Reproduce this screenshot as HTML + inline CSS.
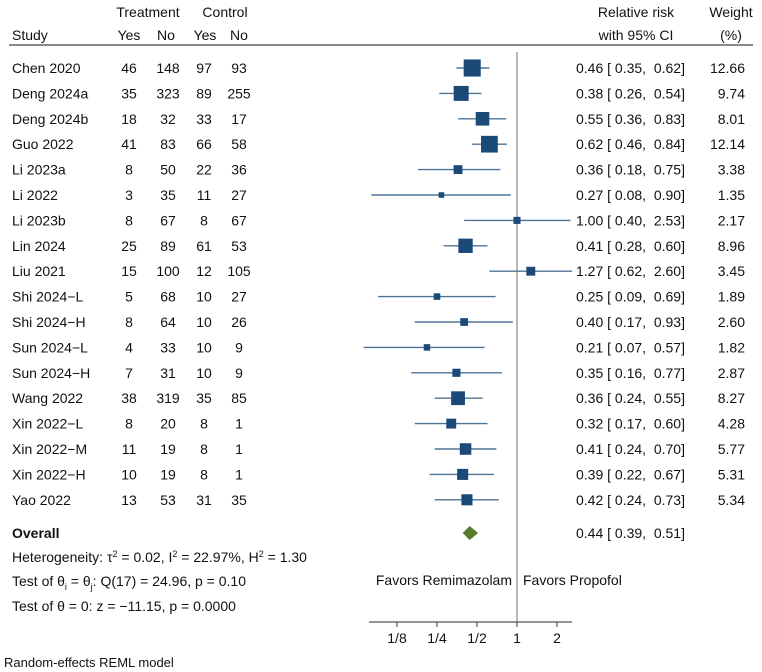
<!DOCTYPE html>
<html><head><meta charset="utf-8"><style>
html,body{margin:0;padding:0;background:#fff}
svg{display:block}
text{font-family:"Liberation Sans",Arial,sans-serif;font-size:14px;fill:#111}
</style></head><body>
<svg id="plot" width="762" height="672" viewBox="0 0 762 672" xmlns="http://www.w3.org/2000/svg">
<g>
<text x="148" y="17" text-anchor="middle">Treatment</text>
<text x="225" y="17" text-anchor="middle">Control</text>
<text x="12" y="40">Study</text>
<text x="129" y="40" text-anchor="middle">Yes</text>
<text x="166" y="40" text-anchor="middle">No</text>
<text x="205" y="40" text-anchor="middle">Yes</text>
<text x="239" y="40" text-anchor="middle">No</text>
<text x="636" y="17" text-anchor="middle">Relative risk</text>
<text x="636" y="40" text-anchor="middle">with 95% CI</text>
<text x="731" y="17" text-anchor="middle">Weight</text>
<text x="731" y="40" text-anchor="middle">(%)</text>
<line x1="9" y1="45" x2="753" y2="45" stroke="#444" stroke-width="1.3"/>
</g>
<g id="rows"></g>
<g id="marks"></g>
<g>
<text x="12" y="538" font-weight="bold">Overall</text>
<text x="12" y="562">Heterogeneity: τ<tspan dy="-5" font-size="9">2</tspan><tspan dy="5"> = 0.02, I</tspan><tspan dy="-5" font-size="9">2</tspan><tspan dy="5"> = 22.97%, H</tspan><tspan dy="-5" font-size="9">2</tspan><tspan dy="5"> = 1.30</tspan></text>
<text x="12" y="586">Test of θ<tspan dy="4" font-size="9">i</tspan><tspan dy="-4"> = θ</tspan><tspan dy="4" font-size="9">j</tspan><tspan dy="-4">: Q(17) = 24.96, p = 0.10</tspan></text>
<text x="12" y="611">Test of θ = 0: z = −11.15, p = 0.0000</text>
<text x="4" y="667" font-size="13" style="font-size:13px">Random-effects REML model</text>
<text x="512" y="585" text-anchor="end">Favors Remimazolam</text>
<text x="523" y="585">Favors Propofol</text>
</g>
</svg>
<script>
const studies=["Chen 2020","Deng 2024a","Deng 2024b","Guo 2022","Li 2023a","Li 2022","Li 2023b","Lin 2024","Liu 2021","Shi 2024\u2212L","Shi 2024\u2212H","Sun 2024\u2212L","Sun 2024\u2212H","Wang 2022","Xin 2022\u2212L","Xin 2022\u2212M","Xin 2022\u2212H","Yao 2022"];
const treatYes=[46,35,18,41,8,3,8,25,15,5,8,4,7,38,8,11,10,13];
const treatNo=[148,323,32,83,50,35,67,89,100,68,64,33,31,319,20,19,19,53];
const ctrlYes=[97,89,33,66,22,11,8,61,12,10,10,10,10,35,8,8,8,31];
const ctrlNo=[93,255,17,58,36,27,67,53,105,27,26,9,9,85,1,1,1,35];
const rr=[0.46,0.38,0.55,0.62,0.36,0.27,1.00,0.41,1.27,0.25,0.40,0.21,0.35,0.36,0.32,0.41,0.39,0.42];
const lower=[0.35,0.26,0.36,0.46,0.18,0.08,0.40,0.28,0.62,0.09,0.17,0.07,0.16,0.24,0.17,0.24,0.22,0.24];
const upper=[0.62,0.54,0.83,0.84,0.75,0.90,2.53,0.60,2.60,0.69,0.93,0.57,0.77,0.55,0.60,0.70,0.67,0.73];
const weights=[12.66,9.74,8.01,12.14,3.38,1.35,2.17,8.96,3.45,1.89,2.60,1.82,2.87,8.27,4.28,5.77,5.31,5.34];
const overall=[0.44,0.39,0.51];
const tickVals=[0.125,0.25,0.5,1,2];
const tickLabels=["1/8","1/4","1/2","1","2"];

const NS="http://www.w3.org/2000/svg";
const X0=517, PX=40, Y0=68, DY=25.4;
function xs(v){return X0+Math.log2(v)*PX;}
function ys(i){return Y0+i*DY;}
function mk(tag,attrs,parent){const e=document.createElementNS(NS,tag);for(const k in attrs)e.setAttribute(k,attrs[k]);parent.appendChild(e);return e;}
const rows=document.getElementById('rows'), marks=document.getElementById('marks');
function txt(x,y,s,anchor,parent){const t=mk('text',{x:x,y:y,'text-anchor':anchor},parent);t.textContent=s;return t;}

// reference line
const ref=mk('line',{x1:X0,y1:52,x2:X0,y2:622,stroke:'#888','stroke-width':1.2},marks);



studies.forEach((s,i)=>{
  const y=ys(i), ty=y+5;
  const g=mk('g',{},rows);
  
  
  txt(12,ty,s,'start',g);
  txt(129,ty,treatYes[i],'middle',g);
  txt(168,ty,treatNo[i],'middle',g);
  txt(204,ty,ctrlYes[i],'middle',g);
  txt(239,ty,ctrlNo[i],'middle',g);
  const ci=txt(576,ty,rr[i].toFixed(2)+' [ '+lower[i].toFixed(2)+',  '+upper[i].toFixed(2)+']','start',g);
  ci.setAttribute('style','white-space:pre');
  txt(745,ty,weights[i].toFixed(2),'end',g);
  const w=mk('line',{x1:xs(lower[i]),y1:y,x2:xs(upper[i]),y2:y,stroke:'#4f7396','stroke-width':1.4},marks);
  
  
  const side=Math.sqrt(weights[i])*4.8;
  const b=mk('rect',{x:xs(rr[i])-side/2,y:y-side/2,width:side,height:side,fill:'#1b4a78'},marks);
  
  
});

// overall
const oy=533;
const d=mk('polygon',{points:`${xs(overall[1])},${oy} ${xs(overall[0])},${oy-7} ${xs(overall[2])},${oy} ${xs(overall[0])},${oy+7}`,fill:'#5a7a2e'},marks);


const ot=txt(576,oy+5,overall[0].toFixed(2)+' [ '+overall[1].toFixed(2)+',  '+overall[2].toFixed(2)+']','start',rows);
ot.setAttribute('style','white-space:pre');



// axis
const ax=mk('g',{},marks);


mk('line',{x1:369,y1:622,x2:572,y2:622,stroke:'#555','stroke-width':1.2},ax);
tickVals.forEach((v,i)=>{
  mk('line',{x1:xs(v),y1:622,x2:xs(v),y2:627,stroke:'#555','stroke-width':1.2},ax);
  const t=txt(xs(v),643,tickLabels[i],'middle',ax);
  
  
});
</script>
</body></html>
